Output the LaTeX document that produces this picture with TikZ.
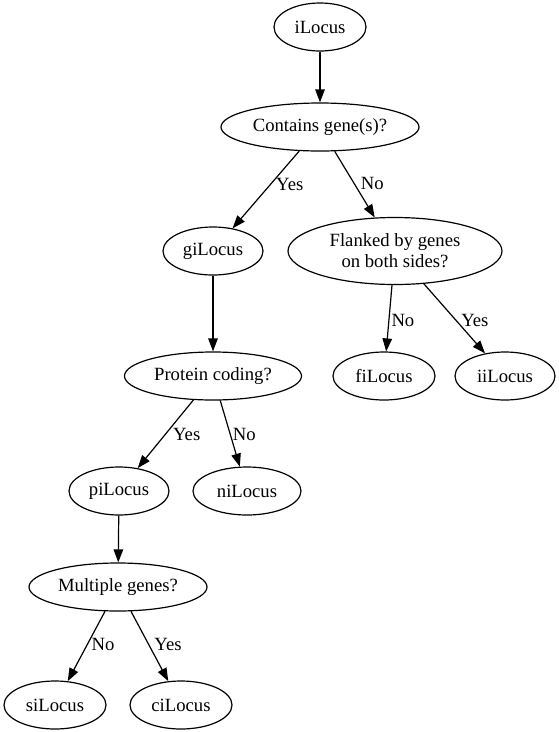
\documentclass[tikz,border=0pt]{standalone}
\usepackage{fontspec}
\setmainfont{Liberation Serif}
\usepackage{tikz}
\usetikzlibrary{shapes,arrows.meta}
\tikzset{
  LocusStyle/.style = {ellipse, draw, line width=1.2pt, inner sep=0pt,
                       minimum height=48pt, align=center,
                       font=\fontsize{18.67}{21}\selectfont},
  EdgeStyle/.style  = {-{Triangle[length=13pt,width=9.5pt]}, line width=1.2pt},
  LabelStyle/.style = {inner sep=1pt, font=\fontsize{18.67}{21}\selectfont}
}

\begin{document}
\begin{tikzpicture}[x=1pt,y=-1pt]
	\useasboundingbox (0,0) rectangle (559,732);
	\node[LocusStyle, minimum width=92pt]  (I)  at (320,27)  {iLocus};
	\node[LocusStyle, minimum width=198pt] (C)  at (320,127) {Contains gene(s)?};
	\node[LocusStyle, minimum width=100pt] (G)  at (213,251) {giLocus};
	\node[LocusStyle, minimum width=214pt, minimum height=67pt] (F) at (395,251) {Flanked by genes\\on both sides?};
	\node[LocusStyle, minimum width=177pt] (P)  at (213,376) {Protein coding?};
	\node[LocusStyle, minimum width=102pt] (FI) at (384,376) {fiLocus};
	\node[LocusStyle, minimum width=100pt] (II) at (505,376) {iiLocus};
	\node[LocusStyle, minimum width=100pt] (PI) at (119,491) {piLocus};
	\node[LocusStyle, minimum width=108pt] (NI) at (247,491) {niLocus};
	\node[LocusStyle, minimum width=178pt] (M)  at (118,587) {Multiple genes?};
	\node[LocusStyle, minimum width=102pt] (SI) at (55,705)  {siLocus};
	\node[LocusStyle, minimum width=102pt] (CI) at (181,705) {ciLocus};
	\draw[EdgeStyle] (I) -- (C);
	\draw[EdgeStyle] (C) -- node[LabelStyle, pos=0.43, right=4pt] {Yes} (G);
	\draw[EdgeStyle] (C) -- node[LabelStyle, pos=0.49, right=5pt] {No} (F);
	\draw[EdgeStyle] (G) -- (P);
	\draw[EdgeStyle] (F) -- node[LabelStyle, pos=0.53, right=1pt] {No} (FI);
	\draw[EdgeStyle] (F) -- node[LabelStyle, pos=0.52, right=4pt] {Yes} (II);
	\draw[EdgeStyle] (P) -- node[LabelStyle, pos=0.5, right=6pt] {Yes} (PI);
	\draw[EdgeStyle] (P) -- node[LabelStyle, pos=0.51, right=1pt] {No} (NI);
	\draw[EdgeStyle] (PI) -- (M);
	\draw[EdgeStyle] (M) -- node[LabelStyle, pos=0.48, right=3pt] {No} (SI);
	\draw[EdgeStyle] (M) -- node[LabelStyle, pos=0.48, right=4pt] {Yes} (CI);
\end{tikzpicture}
\end{document}
